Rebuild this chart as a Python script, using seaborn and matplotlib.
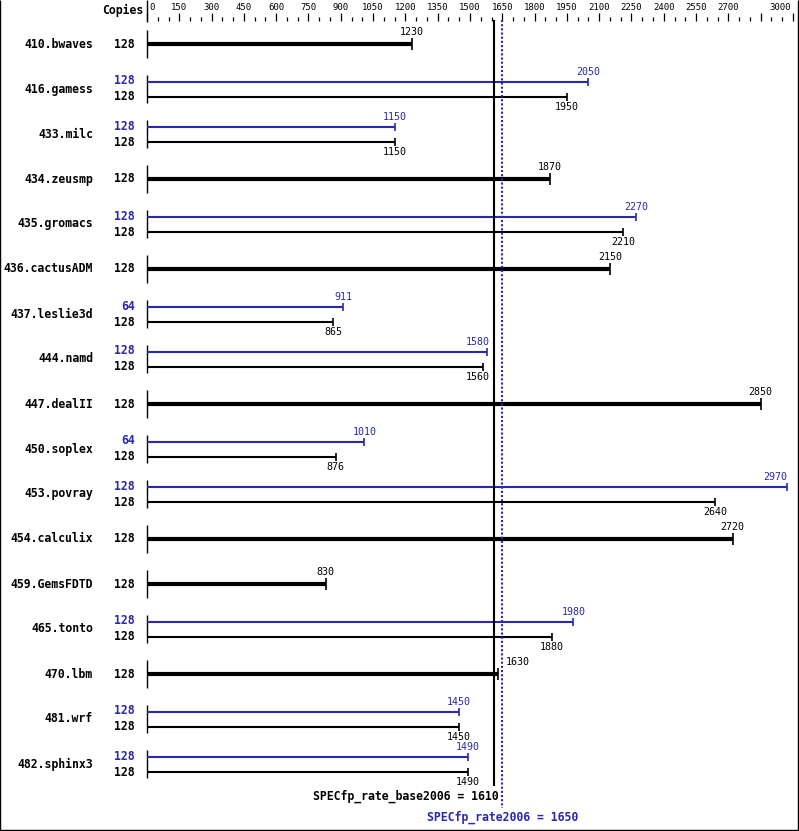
import matplotlib
matplotlib.use("Agg")
import matplotlib.pyplot as plt
import seaborn as sns

benchmarks = ["410.bwaves", "416.gamess", "433.milc", "434.zeusmp", "435.gromacs",
              "436.cactusADM", "437.leslie3d", "444.namd", "447.dealII", "450.soplex",
              "453.povray", "454.calculix", "459.GemsFDTD", "465.tonto", "470.lbm",
              "481.wrf", "482.sphinx3"]
base_copies = [128] * 17
peak_copies = [None, 128, 128, None, 128, None, 64, 128, None, 64, 128, None, None,
               128, None, 128, 128]
base_ratio = [1230, 1950, 1150, 1870, 2210, 2150, 865, 1560, 2850, 876, 2640, 2720,
              830, 1880, 1630, 1450, 1490]
peak_ratio = [None, 2050, 1150, None, 2270, None, 911, 1580, None, 1010, 2970, None,
              None, 1980, None, 1450, 1490]
base_score = 1610
peak_score = 1650
tick_values = list(range(0, 3001, 150))
tick_labels = [str(v) if v != 2850 else "" for v in tick_values]

BLUE = "#2828b0"
W, H = 799, 831
X0, X1 = 147, 793            # pixel positions of 0 and 3000
S = (X1 - X0) / 3000.0


def px(p):
    # pixel column -> data value
    return (p - X0) / S


sns.set_style("white")
plt.rcParams["font.family"] = ["DejaVu Sans Mono", "DejaVu Sans"]
plt.rcParams["text.color"] = "black"

fig = plt.figure(figsize=(W / 100, H / 100), dpi=100)
ax = fig.add_axes([0, 0, 1, 1])
ax.set_xlim(px(0), px(W))
ax.set_ylim(H, 0)
ax.axis("off")

# frame of the image
ax.plot([px(0.5), px(0.5), px(W - 0.5), px(W - 0.5)], [0, H - 1.5, H - 1.5, 0],
        color="black", lw=1.0, solid_capstyle="butt")

# header: copies + scale
ax.text(px(143), 10, "Copies", ha="right", va="center", fontsize=8.3, fontweight="bold")
ax.vlines(0, 0, 22, color="black", lw=1.0)
for v, lab in zip(tick_values, tick_labels):
    ax.vlines(v, 13, 21, color="black", lw=0.9)
    if not lab:
        continue
    if v == 0:
        ax.text(px(X0 + 2), 7, lab, ha="left", va="center", fontsize=6.5)
    elif v == 3000:
        ax.text(px(X1 - 2), 7, lab, ha="right", va="center", fontsize=6.5)
    else:
        ax.text(v, 7, lab, ha="center", va="center", fontsize=6.5)
for v in range(50, 3000, 50):
    if v % 150:
        ax.vlines(v, 17, 21, color="black", lw=0.9)


def value_label(val, y, color):
    end = X0 + val * S
    ha, xt = "center", val
    if end < 494 and end + 12 > 490:
        ha, xt = "right", px(490)
    elif 494 <= end < 518:
        ha, xt = "left", px(506)
    elif end + 12 > W - 6:
        ha, xt = "right", px(end + 1)
    ax.text(xt, y, str(val), ha=ha, va="center", fontsize=7.2, color=color)


for i, name in enumerate(benchmarks):
    yc = 44 + 45 * i
    ax.text(px(93), yc, name, ha="right", va="center", fontsize=8.3, fontweight="bold")
    ax.vlines(0, yc - 14, yc + 14, color="black", lw=1.0)
    if peak_ratio[i] is None:
        b = base_ratio[i]
        ax.text(px(135), yc, str(base_copies[i]), ha="right", va="center",
                fontsize=8.3, fontweight="bold")
        ax.hlines(yc, 0, b, color="black", lw=3.0)
        ax.vlines(b, yc - 6, yc + 6, color="black", lw=1.2)
        value_label(b, yc - 12, "black")
    else:
        yp, yb = yc - 7, yc + 8
        p, b = peak_ratio[i], base_ratio[i]
        ax.text(px(135), yp - 1, str(peak_copies[i]), ha="right", va="center",
                fontsize=8.3, fontweight="bold", color=BLUE)
        ax.text(px(135), yb, str(base_copies[i]), ha="right", va="center",
                fontsize=8.3, fontweight="bold")
        ax.hlines(yp, 0, p, color=BLUE, lw=1.5)
        ax.vlines(p, yp - 4, yp + 4, color=BLUE, lw=1.2)
        ax.hlines(yb, 0, b, color="black", lw=1.5)
        ax.vlines(b, yb - 4, yb + 4, color="black", lw=1.2)
        value_label(p, yp - 10, BLUE)
        value_label(b, yb + 10, "black")

# reference lines
ax.vlines(base_score, 20, 786, color="black", lw=1.5)
ax.vlines(peak_score, 20, 808, color=BLUE, lw=1.5, linestyles=(0, (1, 1)))
ax.text(px(499), 796, f"SPECfp_rate_base2006 = {base_score}", ha="right", va="center",
        fontsize=8.3, fontweight="bold")
ax.text(peak_score, 817, f"SPECfp_rate2006 = {peak_score}", ha="center", va="center",
        fontsize=8.3, fontweight="bold", color=BLUE)

fig.savefig("out.png", dpi=100)
